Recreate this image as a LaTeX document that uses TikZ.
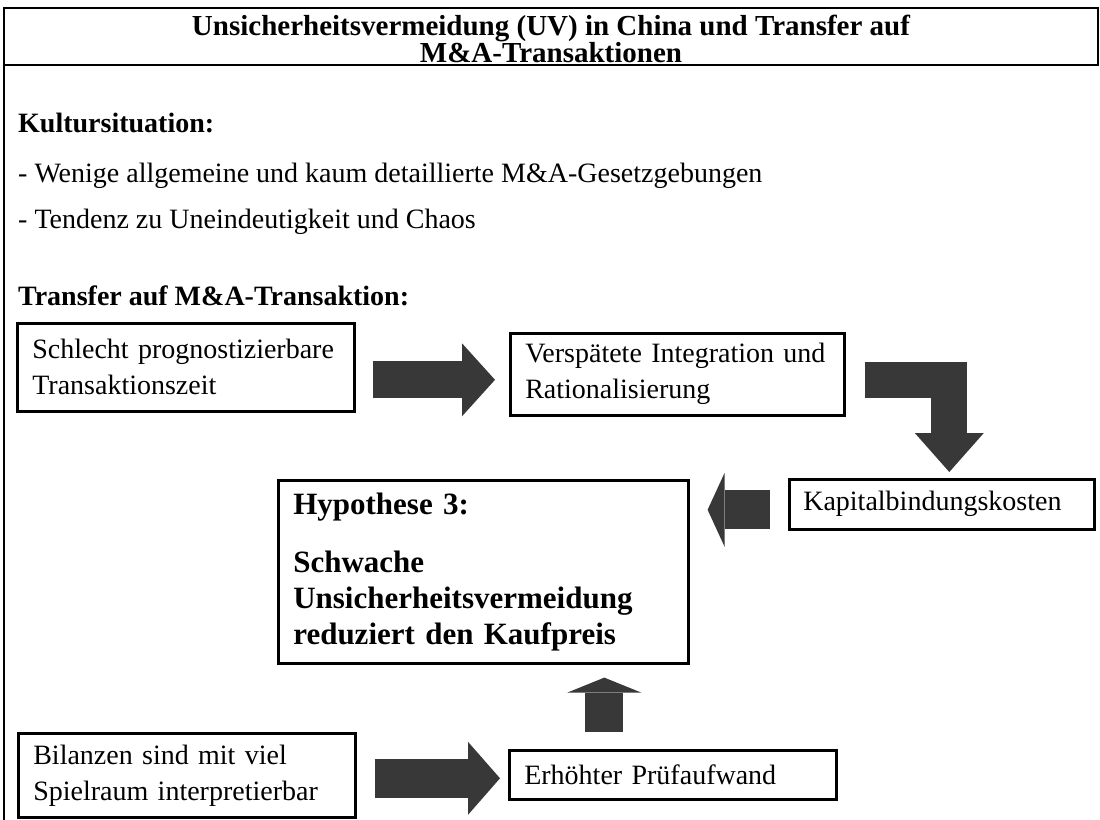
\documentclass[tikz,border=0pt]{standalone}
\usepackage{fontspec}
\setmainfont{Liberation Serif}
\usetikzlibrary{arrows.meta}
\usetikzlibrary{calc}

\tikzset{
  box/.style={draw, line width=2.6pt, anchor=north west, align=left,
    inner xsep=15pt, inner ysep=0pt, font=\fontsize{28}{36}\selectfont},
  txt/.style={anchor=base west, inner sep=0pt, font=\fontsize{28}{33}\selectfont},
  head/.style={txt, font=\bfseries\fontsize{28}{33}\selectfont},
  blockarrow/.style={draw=black!78, line cap=butt, line join=miter}
}

\begin{document}
\begin{tikzpicture}[x=1pt,y=-1pt]
\useasboundingbox (0,0) rectangle (1100,819);
% frame
\draw[line width=2.6pt] (4,65) rectangle (1098,8);
\draw[line width=2.2pt] (4,65) -- (4,822);
\node[font=\bfseries\fontsize{29}{24}\selectfont, align=center] (title) at (551,39)
  {Unsicherheitsvermeidung (UV) in China und Transfer auf\\M\&A-Transaktionen};

\node[head] (kultur) at (18,132) {Kultursituation:};
\node[txt] (gesetz) at (18,182) {- Wenige allgemeine und kaum detaillierte M\&A-Gesetzgebungen};
\node[txt] (chaos) at (18,228) {- Tendenz zu Uneindeutigkeit und Chaos};
\node[head] (transfer) at (18,305) {Transfer auf M\&A-Transaktion:};

% boxes
\node[box, minimum width=337pt, minimum height=88pt, text width=307pt] (prog) at (16,322)
  {Schlecht prognostizierbare\\Transaktionszeit};
\node[box, minimum width=334pt, minimum height=82pt, text width=304pt] (spaet) at (509,332)
  {Verspätete Integration und\\Rationalisierung};
\node[box, minimum width=305pt, minimum height=50pt, text width=277pt, inner xsep=14pt] (kap) at (788,478)
  {Kapitalbindungskosten};
\node[box, minimum width=410pt, minimum height=183pt, text width=380pt,
  font=\bfseries\fontsize{31}{36}\selectfont] (hyp) at (277,479)
  {Hypothese 3:\\[22pt]Schwache\\Unsicherheitsvermeidung\\reduziert den Kaufpreis};
\node[box, minimum width=337pt, minimum height=84pt, text width=307pt] (bil) at (17,732)
  {Bilanzen sind mit viel\\Spielraum interpretierbar};
\node[box, minimum width=327pt, minimum height=49pt, text width=297pt] (pruef) at (508,749)
  {Erhöhter Prüfaufwand};

% block arrows
\draw[blockarrow, line width=37pt, -{Triangle[length=33pt,width=73pt,line width=0pt]}]
  ($(prog.east)+(17,12.5)$) -- ($(spaet.west)+(-14,5.5)$);
\draw[blockarrow, line width=36pt, -{Triangle[length=39pt,width=69pt,line width=0pt]}]
  ($(spaet.east)+(19,5.5)$) -| ($(kap.north)+(7.5,-6)$);
\draw[blockarrow, line width=39pt, -{Triangle[length=17pt,width=74pt,line width=0pt]}]
  ($(kap.west)+(-18,5.5)$) -- ($(kap.west -| hyp.east)+(18,5.5)$);
\draw[blockarrow, line width=38pt, -{Triangle[length=15pt,width=74pt,line width=0pt]}]
  ($(pruef.north)+(-68.5,-17)$) -- ($(hyp.south)+(121,13)$);
\draw[blockarrow, line width=39pt, -{Triangle[length=32pt,width=73pt,line width=0pt]}]
  ($(bil.east)+(18,3)$) -- ($(pruef.west)+(-8,3.5)$);
\end{tikzpicture}
\end{document}
